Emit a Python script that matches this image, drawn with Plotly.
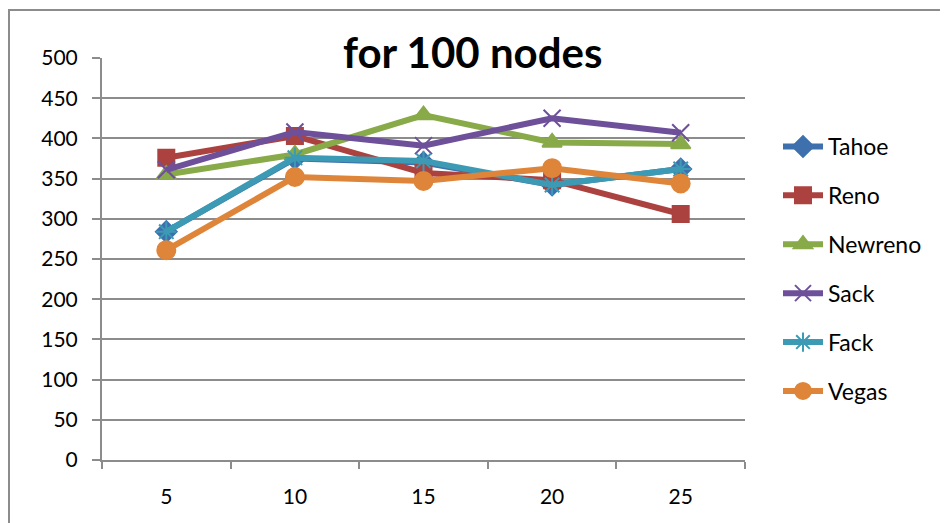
import plotly.graph_objects as go

categories = ["5", "10", "15", "20", "25"]
tahoe = [284, 375, 370, 342, 362]
reno = [376, 403, 357, 348, 306]
newreno = [355, 380, 429, 395, 393]
sack = [361, 408, 391, 425, 407]
fack = [284, 376, 372, 342, 362]
vegas = [261, 352, 347, 363, 344]
y_ticks = list(range(0, 501, 50))

series = [
    ("Tahoe", tahoe, "#3E70AE", "diamond", 16),
    ("Reno", reno, "#AC423F", "square", 16),
    ("Newreno", newreno, "#88AA48", "triangle-up", 17),
    ("Sack", sack, "#6E509A", "x-thin-open", 17),
    ("Fack", fack, "#3C9AB4", "asterisk-open", 17),
    ("Vegas", vegas, "#DE853A", "circle", 18),
]

OFF = 8  # page body margin
W, H = 948, 523
L, R, T, B = 102 - OFF, 745 - OFF, 58 - OFF, 460 - OFF

fig = go.Figure()
for i, (name, vals, col, sym, ms) in enumerate(series):
    fig.add_trace(go.Scatter(
        x=categories, y=vals, name=name, mode="lines+markers",
        line=dict(color=col, width=6),
        marker=dict(symbol=sym, size=ms, color=col,
                    line=dict(color=col, width=2)),
        legendgroup=f"g{i}",
    ))

gridcol = "#8C8C8C"
font = "Lato, 'Open Sans', sans-serif"

fig.update_layout(
    width=W, height=H,
    margin=dict(l=L, r=W - R, t=T, b=H - B),
    paper_bgcolor="white", plot_bgcolor="white",
    showlegend=True,
    legend=dict(x=(778 - OFF - L) / (R - L), y=(B - (269 - OFF)) / (B - T), xanchor="left", yanchor="middle",
                font=dict(family=font, size=23, color="black"),
                tracegroupgap=16, traceorder="grouped", itemwidth=40,
                bgcolor="rgba(0,0,0,0)"),
    font=dict(family=font, color="black"),
)
fig.update_xaxes(
    type="category", categoryorder="array", categoryarray=categories,
    range=[-0.5, 4.5], showgrid=False, showline=True, linecolor=gridcol, linewidth=2,
    ticks="outside", tickson="boundaries", ticklen=7, tickcolor=gridcol, tickwidth=1.5,
    tickfont=dict(family=font, size=21, color="black"), ticklabelstandoff=17,
    zeroline=False, fixedrange=True,
)
fig.update_yaxes(
    range=[0, 500], tickvals=y_ticks, ticktext=[str(v) for v in y_ticks],
    showgrid=True, gridcolor=gridcol, gridwidth=2,
    showline=True, linecolor=gridcol, linewidth=2,
    ticks="outside", ticklen=8, tickcolor=gridcol, tickwidth=1.5,
    tickfont=dict(family=font, size=21, color="black"), ticklabelstandoff=10,
    zeroline=False, fixedrange=True,
)

# title
fig.add_annotation(
    text="<b>for 100 nodes</b>", xref="paper", yref="paper",
    x=(472 - OFF - L) / (R - L), y=(B - (52 - OFF)) / (B - T), xanchor="center", yanchor="middle",
    showarrow=False, font=dict(family=font, size=42, color="black"),
)
# outer chart border
fig.add_shape(
    type="rect", xref="paper", yref="paper",
    x0=(9 - OFF - L) / (R - L), x1=(960 - L) / (R - L),
    y0=(B - 540) / (B - T), y1=(B - (10 - OFF)) / (B - T),
    line=dict(color=gridcol, width=2), layer="below",
)

fig.write_html("out.html")
